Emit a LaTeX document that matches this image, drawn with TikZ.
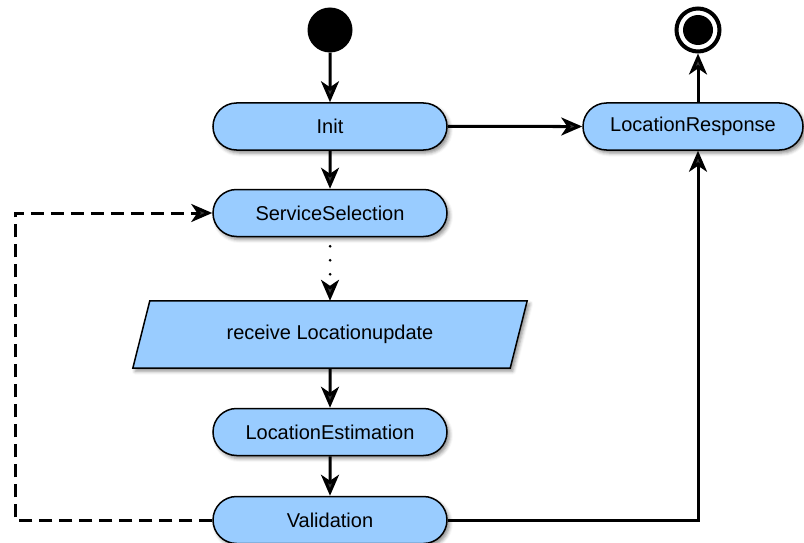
\documentclass[tikz,border=0pt]{standalone}
\usepackage{fontspec}
\setmainfont{Liberation Sans}
\usetikzlibrary{arrows.meta,shapes.misc,shadows.blur,calc}
\definecolor{actfill}{HTML}{99CCFF}
\tikzset{
  softshadow/.style={blur shadow={shadow xshift=2.5pt, shadow yshift=-3pt,
      shadow blur radius=3.5pt, shadow opacity=45}},
  labelfont/.style={font=\fontsize{20}{24}\selectfont},
  activity/.style={rounded rectangle, draw=black, line width=1.5pt, fill=actfill,
      minimum width=234pt, minimum height=47pt, inner sep=0pt,
      labelfont, softshadow},
  flow/.style={line width=3pt, -{Stealth[length=21pt,width=18pt,inset=6pt]}},
  loopback/.style={flow, dash pattern=on 13pt off 7pt},
  dotflow/.style={flow, line cap=round, dash pattern=on 0pt off 14pt, dash phase=5pt},
}
\begin{document}
\begin{tikzpicture}[x=1pt,y=-1pt]
\useasboundingbox (0,0) rectangle (804,543);

% initial and final states
\node[circle, fill=black, minimum size=45pt, inner sep=0pt] (start) at (330,30) {};
\node[circle, draw=black, line width=4pt, minimum size=43pt, inner sep=0pt] (fin) at (698,30) {};
\node[circle, fill=black, minimum size=30pt, inner sep=0pt] (findot) at (fin.center) {};

% activities
\node[activity] (init) at (330,126.5) {Init};
\node[activity, minimum width=220pt] (resp) at (693,126.5) {LocationResponse};
\node[activity] (svc) at (330,213) {ServiceSelection};
\node[rectangle, minimum width=394pt, minimum height=67pt, inner sep=0pt] (recv) at (330,334.5) {};
\path[fill=actfill, draw=black, line width=1.5pt, softshadow]
  ($(recv.north west)+(17,0)$) -- (recv.north east) --
  ($(recv.south east)+(-17,0)$) -- (recv.south west) -- cycle;
\node[labelfont] (recvlabel) at (recv.center) {receive Locationupdate};
\node[activity] (est) at (330,432) {LocationEstimation};
\node[activity] (valid) at (330,520) {Validation};

% flows
\draw[flow] (start) -- (init);
\draw[flow] (init) -- (svc);
\draw[flow] (init) -- (resp);
\draw[dotflow] (svc) -- (recv);
\draw[flow] (recv) -- (est);
\draw[flow] (est) -- (valid);
\draw[flow] (valid.east) -| (fin |- resp.south);
\draw[flow] (fin |- resp.north) -- (fin);
\coordinate (loopx) at (15,300);
\draw[loopback] (valid.west) -- (valid.west -| loopx) |- (svc.west);
\end{tikzpicture}
\end{document}
